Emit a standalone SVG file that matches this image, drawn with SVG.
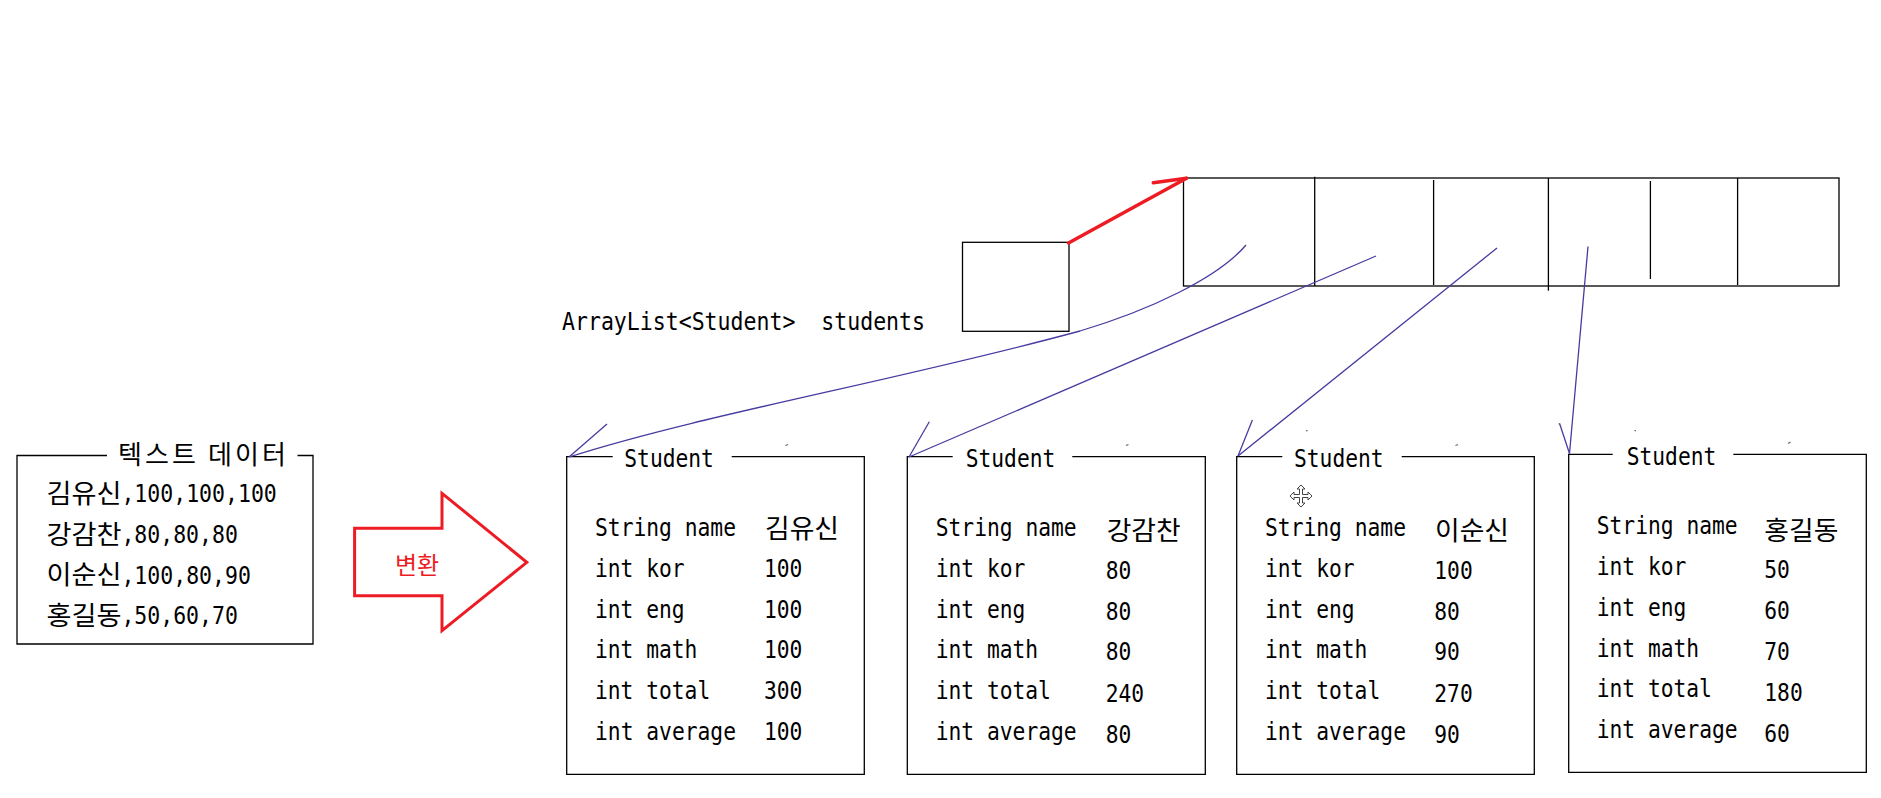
<svg xmlns="http://www.w3.org/2000/svg" width="1881" height="798" viewBox="0 0 1881 798">
<style>
.bg{fill:#ffffff}
.box{fill:none;stroke:#000;stroke-width:1.3}
.lat{font-family:"DejaVu Sans Mono","Liberation Mono",monospace;font-size:25px;fill:#000}
.kor{font-family:"Noto Sans CJK KR","Noto Sans",sans-serif;font-size:26px;fill:#000}
.red{fill:none;stroke:#ED1C24;stroke-width:3.5;stroke-linecap:round;stroke-linejoin:miter}
.redtxt{font-family:"Noto Sans CJK KR","Noto Sans",sans-serif;font-size:24px;fill:#ED1C24}
.blue{fill:none;stroke:#463CA0;stroke-width:1.3}
.mark{fill:none;stroke:#666;stroke-width:1.2}
</style>
<rect class="bg" x="0" y="0" width="1881" height="798"/>

<g id="text-data">
  <path class="box" d="M107,455.5 H17 V644 H313 V455.5 H297.5"/>
  <text class="kor" x="118" y="463.5" textLength="168" lengthAdjust="spacing">텍스트 데이터</text>
  <text class="kor" x="46.4" y="502.5" textLength="75" lengthAdjust="spacingAndGlyphs">김유신</text>
  <text class="lat" x="121.4" y="502" textLength="155.4" lengthAdjust="spacingAndGlyphs">,100,100,100</text>
  <text class="kor" x="46.4" y="543.5" textLength="75" lengthAdjust="spacingAndGlyphs">강감찬</text>
  <text class="lat" x="121.4" y="543" textLength="116.5" lengthAdjust="spacingAndGlyphs">,80,80,80</text>
  <text class="kor" x="46.4" y="584" textLength="75" lengthAdjust="spacingAndGlyphs">이순신</text>
  <text class="lat" x="121.4" y="583.5" textLength="129.5" lengthAdjust="spacingAndGlyphs">,100,80,90</text>
  <text class="kor" x="46.4" y="624.5" textLength="75" lengthAdjust="spacingAndGlyphs">홍길동</text>
  <text class="lat" x="121.4" y="624" textLength="116.5" lengthAdjust="spacingAndGlyphs">,50,60,70</text>
</g>

<g id="convert-arrow">
  <polygon points="354.6,528.3 442,528.3 442,493.3 526.8,562.3 442,630.7 442,595.7 354.6,595.7" fill="none" stroke="#ED1C24" stroke-width="3"/>
  <text class="redtxt" x="395" y="574">변환</text>
</g>

<g id="students-ref">
  <text class="lat" x="562" y="330" xml:space="preserve" textLength="363" lengthAdjust="spacingAndGlyphs">ArrayList&lt;Student&gt;  students</text>
  <rect class="box" x="962.5" y="242.3" width="106.5" height="89"/>
</g>

<g id="array">
  <rect class="box" x="1183.5" y="178" width="655.5" height="108"/>
  <line class="box" x1="1314.7" y1="176.7" x2="1314.7" y2="286"/>
  <line class="box" x1="1433.6" y1="180" x2="1433.6" y2="285"/>
  <line class="box" x1="1548.4" y1="178" x2="1548.4" y2="290.7"/>
  <line class="box" x1="1650.4" y1="181" x2="1650.4" y2="279"/>
  <line class="box" x1="1737.6" y1="178" x2="1737.6" y2="285"/>
</g>

<g id="student1">
  <path class="box" d="M612.7,456.7 H566.7 V774.3 H864.3 V456.7 H731.7"/>
  <text class="lat" x="624.3" y="466.7" textLength="89.6" lengthAdjust="spacingAndGlyphs">Student</text>
  <text class="lat" x="595" y="535.7" textLength="141" lengthAdjust="spacingAndGlyphs">String name</text>
  <text class="kor" x="765" y="537.5" textLength="74" lengthAdjust="spacingAndGlyphs">김유신</text>
  <text class="lat" x="595" y="576.7" textLength="89.6" lengthAdjust="spacingAndGlyphs">int kor</text>
  <text class="lat" x="764" y="576.7" textLength="38.4" lengthAdjust="spacingAndGlyphs">100</text>
  <text class="lat" x="595" y="617.7" textLength="89.6" lengthAdjust="spacingAndGlyphs">int eng</text>
  <text class="lat" x="764" y="617.7" textLength="38.4" lengthAdjust="spacingAndGlyphs">100</text>
  <text class="lat" x="595" y="658.3" textLength="102.4" lengthAdjust="spacingAndGlyphs">int math</text>
  <text class="lat" x="764" y="658.3" textLength="38.4" lengthAdjust="spacingAndGlyphs">100</text>
  <text class="lat" x="595" y="699" textLength="115.2" lengthAdjust="spacingAndGlyphs">int total</text>
  <text class="lat" x="764" y="699" textLength="38.4" lengthAdjust="spacingAndGlyphs">300</text>
  <text class="lat" x="595" y="740" textLength="141" lengthAdjust="spacingAndGlyphs">int average</text>
  <text class="lat" x="764" y="740" textLength="38.4" lengthAdjust="spacingAndGlyphs">100</text>
</g>

<g id="student2">
  <path class="box" d="M952.7,456.7 H907.3 V774.3 H1205.3 V456.7 H1072.3"/>
  <text class="lat" x="965.7" y="466.7" textLength="89.6" lengthAdjust="spacingAndGlyphs">Student</text>
  <text class="lat" x="935.7" y="535.7" textLength="141" lengthAdjust="spacingAndGlyphs">String name</text>
  <text class="kor" x="1106.7" y="539.5" textLength="74" lengthAdjust="spacingAndGlyphs">강감찬</text>
  <text class="lat" x="935.7" y="576.7" textLength="89.6" lengthAdjust="spacingAndGlyphs">int kor</text>
  <text class="lat" x="1105.7" y="578.5" textLength="25.6" lengthAdjust="spacingAndGlyphs">80</text>
  <text class="lat" x="935.7" y="617.7" textLength="89.6" lengthAdjust="spacingAndGlyphs">int eng</text>
  <text class="lat" x="1105.7" y="619.5" textLength="25.6" lengthAdjust="spacingAndGlyphs">80</text>
  <text class="lat" x="935.7" y="658.3" textLength="102.4" lengthAdjust="spacingAndGlyphs">int math</text>
  <text class="lat" x="1105.7" y="660.3" textLength="25.6" lengthAdjust="spacingAndGlyphs">80</text>
  <text class="lat" x="935.7" y="699" textLength="115.2" lengthAdjust="spacingAndGlyphs">int total</text>
  <text class="lat" x="1105.7" y="701.5" textLength="38.4" lengthAdjust="spacingAndGlyphs">240</text>
  <text class="lat" x="935.7" y="740" textLength="141" lengthAdjust="spacingAndGlyphs">int average</text>
  <text class="lat" x="1105.7" y="742.5" textLength="25.6" lengthAdjust="spacingAndGlyphs">80</text>
</g>

<g id="student3">
  <path class="box" d="M1282.3,456.7 H1236.7 V774.3 H1534.3 V456.7 H1401.7"/>
  <text class="lat" x="1294" y="466.7" textLength="89.6" lengthAdjust="spacingAndGlyphs">Student</text>
  <text class="lat" x="1265" y="535.7" textLength="141" lengthAdjust="spacingAndGlyphs">String name</text>
  <text class="kor" x="1435" y="539.5" textLength="74" lengthAdjust="spacingAndGlyphs">이순신</text>
  <text class="lat" x="1265" y="576.7" textLength="89.6" lengthAdjust="spacingAndGlyphs">int kor</text>
  <text class="lat" x="1434.3" y="578.5" textLength="38.4" lengthAdjust="spacingAndGlyphs">100</text>
  <text class="lat" x="1265" y="617.7" textLength="89.6" lengthAdjust="spacingAndGlyphs">int eng</text>
  <text class="lat" x="1434.3" y="619.5" textLength="25.6" lengthAdjust="spacingAndGlyphs">80</text>
  <text class="lat" x="1265" y="658.3" textLength="102.4" lengthAdjust="spacingAndGlyphs">int math</text>
  <text class="lat" x="1434.3" y="660.3" textLength="25.6" lengthAdjust="spacingAndGlyphs">90</text>
  <text class="lat" x="1265" y="699" textLength="115.2" lengthAdjust="spacingAndGlyphs">int total</text>
  <text class="lat" x="1434.3" y="701.5" textLength="38.4" lengthAdjust="spacingAndGlyphs">270</text>
  <text class="lat" x="1265" y="740" textLength="141" lengthAdjust="spacingAndGlyphs">int average</text>
  <text class="lat" x="1434.3" y="742.5" textLength="25.6" lengthAdjust="spacingAndGlyphs">90</text>
</g>

<g id="student4">
  <path class="box" d="M1612.7,454.3 H1568.7 V772.3 H1866.3 V454.3 H1733.3"/>
  <text class="lat" x="1626.7" y="465" textLength="89.6" lengthAdjust="spacingAndGlyphs">Student</text>
  <text class="lat" x="1596.7" y="534.3" textLength="141" lengthAdjust="spacingAndGlyphs">String name</text>
  <text class="kor" x="1764.3" y="540" textLength="74" lengthAdjust="spacingAndGlyphs">홍길동</text>
  <text class="lat" x="1596.7" y="575" textLength="89.6" lengthAdjust="spacingAndGlyphs">int kor</text>
  <text class="lat" x="1764.3" y="578.3" textLength="25.6" lengthAdjust="spacingAndGlyphs">50</text>
  <text class="lat" x="1596.7" y="616" textLength="89.6" lengthAdjust="spacingAndGlyphs">int eng</text>
  <text class="lat" x="1764.3" y="618.5" textLength="25.6" lengthAdjust="spacingAndGlyphs">60</text>
  <text class="lat" x="1596.7" y="656.7" textLength="102.4" lengthAdjust="spacingAndGlyphs">int math</text>
  <text class="lat" x="1764.3" y="659.5" textLength="25.6" lengthAdjust="spacingAndGlyphs">70</text>
  <text class="lat" x="1596.7" y="697.3" textLength="115.2" lengthAdjust="spacingAndGlyphs">int total</text>
  <text class="lat" x="1764.3" y="700.5" textLength="38.4" lengthAdjust="spacingAndGlyphs">180</text>
  <text class="lat" x="1596.7" y="738.3" textLength="141" lengthAdjust="spacingAndGlyphs">int average</text>
  <text class="lat" x="1764.3" y="741.5" textLength="25.6" lengthAdjust="spacingAndGlyphs">60</text>
</g>

<g id="connectors">
  <path class="red" d="M1068.5,243 L1186.5,178.3"/>
  <path class="red" d="M1153.3,182.7 L1186.5,178.3"/>
  <path class="blue" d="M1246,245 C1218,278 1150,310 1080,331 C900,380 700,415 569,457"/>
  <path class="blue" d="M607,424 L569,457"/>
  <path class="blue" d="M1376,256 L909,457"/>
  <path class="blue" d="M929.3,421.7 L909,457"/>
  <path class="blue" d="M1497,248 L1238,456"/>
  <path class="blue" d="M1252.4,420 L1238,456"/>
  <path class="blue" d="M1588,246.5 L1569.5,453.5"/>
  <path class="blue" d="M1559.5,423.3 L1569.5,453.5"/>
</g>

<g id="marks">
  <path class="mark" d="M785.5,445.5 L788,444.5"/>
  <path class="mark" d="M1126,445.5 L1128.5,444.5"/>
  <path class="mark" d="M1306,430.7 L1307.5,430.7"/>
  <path class="mark" d="M1455.5,445.5 L1458,444.5"/>
  <path class="mark" d="M1558.5,424 L1560,424"/>
  <path class="mark" d="M1634.5,430.7 L1636,430.7"/>
  <path class="mark" d="M1788,443.5 L1790.5,442"/>
  <path transform="translate(1301,496)" d="M0,-11 L4,-7 L1.5,-7 L1.5,-1.5 L7,-1.5 L7,-4 L11,0 L7,4 L7,1.5 L1.5,1.5 L1.5,7 L4,7 L0,11 L-4,7 L-1.5,7 L-1.5,1.5 L-7,1.5 L-7,4 L-11,0 L-7,-4 L-7,-1.5 L-1.5,-1.5 L-1.5,-7 L-4,-7 Z" fill="#fff" stroke="#444" stroke-width="1"/>
</g>
</svg>
